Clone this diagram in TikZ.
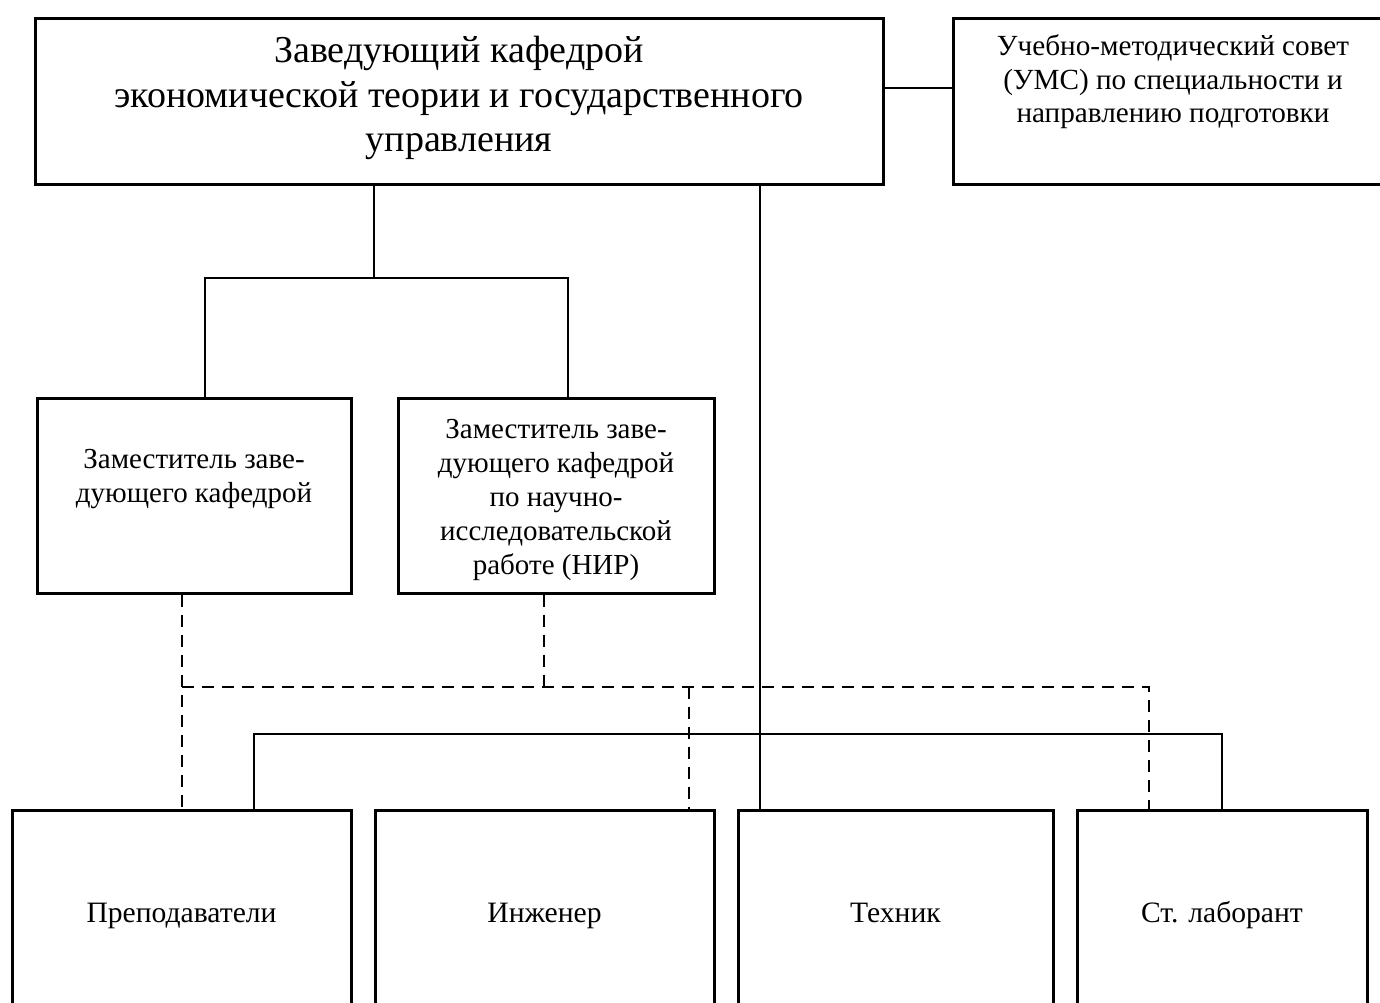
\documentclass[tikz,border=0pt]{standalone}
\usepackage{fontspec}
\setmainfont{Liberation Serif}
\begin{document}
\begin{tikzpicture}[x=0.5pt,y=-0.5pt,
  box/.style={draw=black,line width=1.5pt,rectangle,inner sep=0pt,align=center,fill=white},
  link/.style={draw=black,line width=0.8pt},
  dlink/.style={draw=black,line width=0.8pt,dash pattern=on 6pt off 4pt},
  bigtext/.style={font=\fontsize{19}{22.2}\selectfont},
  midtext/.style={font=\fontsize{14.6}{16.7}\selectfont},
  deptext/.style={font=\fontsize{14.5}{17}\selectfont},
  bottext/.style={font=\fontsize{14.8}{17}\selectfont,text height=10pt,text depth=3pt}]
\useasboundingbox (0,0) rectangle (1380,1002);
\clip (0,0) rectangle (1380,1002);
% boxes
\node[box,minimum width=424pt,minimum height=83pt] (top) at (459,101) {};
\node[bigtext,align=center] (topt) at (459,98)
  {Заведующий кафедрой\\экономической теории и государственного\\управления};
\node[box,minimum width=221pt,minimum height=83pt,anchor=north west] (ums) at (952,17) {};
\node[midtext,align=center] (umst) at (1173,82) {Учебно-методический совет\\(УМС) по специальности и\\направлению подготовки};
\node[box,minimum width=157pt,minimum height=97.5pt] (dep1) at (194,495.5) {};
\node[deptext,align=center] (dep1t) at (194,479) {Заместитель заве-\\дующего кафедрой};
\node[box,minimum width=158pt,minimum height=97.5pt] (dep2) at (556,495.5) {};
\node[deptext,align=center] (dep2t) at (556,500)
  {Заместитель заве-\\дующего кафедрой\\по научно-\\исследовательской\\работе (НИР)};
\node[box,bottext,minimum width=169.5pt,minimum height=105pt] (prep) at (181.5,915) {Преподаватели};
\node[box,bottext,minimum width=169.5pt,minimum height=105pt] (inzh) at (544.5,915) {Инженер};
\node[box,bottext,minimum width=157.5pt,minimum height=105pt] (tekh) at (895.5,915) {Техник};
\node[box,bottext,minimum width=145pt,minimum height=105pt] (lab) at (1222,915) {Ст. лаборант};
% helper coordinates
\coordinate (j0) at (374,278);
\coordinate (jL) at (205,278);
\coordinate (jR) at (568,278);
\coordinate (u) at (900,88);
\coordinate (tx) at (760,0);
\coordinate (d1) at (182,687);
\coordinate (d2) at (544,687);
\coordinate (d3) at (689,687);
\coordinate (d4) at (1149,687);
\coordinate (s1) at (254,734);
\coordinate (s2) at (1222,734);
% solid connectors
\draw[link] (top.south -| j0) -- (j0);
\draw[link] (jL |- dep1.north) -- (jL) -- (jR) -- (jR |- dep2.north);
\draw[link] (top.east |- u) -- (ums.west |- u);
\draw[link] (top.south -| tx) -- (tekh.north -| tx);
\draw[link] (prep.north -| s1) -- (s1) -- (s2) -- (lab.north -| s2);
% dashed connectors
\draw[dlink] (dep1.south -| d1) -- (prep.north -| d1);
\draw[dlink] (dep2.south -| d2) -- (d2);
\draw[dlink] (d1) -- (d4) -- (lab.north -| d4);
\draw[dlink] (d3) -- (inzh.north -| d3);
\end{tikzpicture}
\end{document}
